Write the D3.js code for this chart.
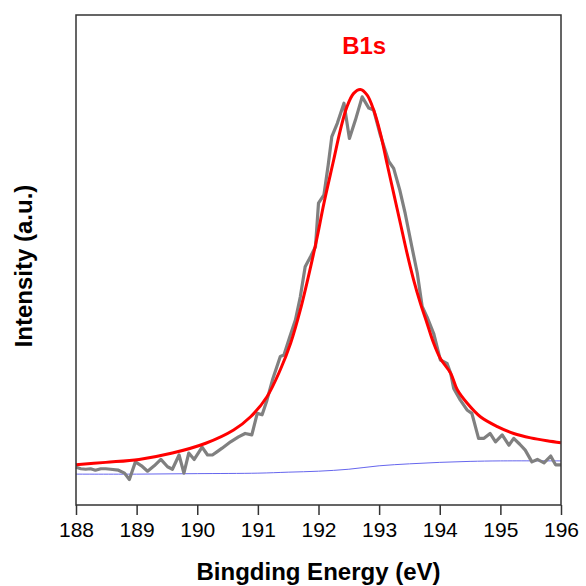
<!DOCTYPE html>
<html>
<head>
<meta charset="utf-8">
<script src="https://cdn.jsdelivr.net/npm/d3@7"></script>
<style>
  body { margin: 0; background: #fff; }
  text { font-family: Arial, "Liberation Sans", sans-serif; }
</style>
</head>
<body>
<div id="d3-container"></div>
<script>
/* CONSTANTS AND GLOBALS */
const width = 586,
  height = 586,
  margin = { top: 15, bottom: 81, left: 76, right: 25 };

/* DATA */
// measured spectrum
const energy = [188.00, 188.08, 188.16, 188.24, 188.32, 188.41, 188.49, 188.57, 188.70, 188.80,
  188.88, 188.98, 189.08, 189.18, 189.29, 189.40, 189.51, 189.59, 189.70, 189.78,
  189.86, 189.95, 190.08, 190.17, 190.25, 190.33, 190.41, 190.55, 190.68, 190.79,
  190.90, 190.99, 191.07, 191.15, 191.24, 191.37, 191.43, 191.52, 191.62, 191.70,
  191.78, 191.87, 191.95, 192.00, 192.09, 192.16, 192.22, 192.31, 192.42, 192.51,
  192.61, 192.72, 192.83, 192.91, 193.02, 193.16, 193.24, 193.34, 193.43, 193.54,
  193.63, 193.71, 193.79, 193.90, 194.01, 194.12, 194.18, 194.23, 194.34, 194.45,
  194.53, 194.64, 194.73, 194.83, 194.92, 195.03, 195.14, 195.22, 195.32, 195.41,
  195.52, 195.61, 195.72, 195.83, 195.91, 196.00];
const counts = [7.7, 7.4, 7.3, 7.4, 7.1, 7.4, 7.4, 7.3, 7.1, 6.5,
  5.2, 8.8, 8.0, 6.9, 8.0, 9.3, 7.8, 7.3, 10.2, 6.5,
  10.6, 9.3, 11.8, 10.2, 10.2, 10.9, 11.6, 12.9, 13.9, 14.6,
  14.3, 18.7, 18.4, 21.4, 25.5, 30.3, 30.6, 34.1, 37.8, 42.5,
  48.6, 50.7, 52.7, 61.6, 63.3, 69.4, 75.2, 77.9, 82.0, 74.8,
  78.6, 83.3, 81.0, 80.6, 75.5, 70.1, 68.7, 64.3, 59.5, 52.7,
  47.3, 40.5, 38.4, 35.0, 29.6, 28.9, 26.9, 23.8, 21.4, 19.4,
  18.7, 13.6, 13.6, 14.6, 12.9, 14.3, 12.2, 13.6, 12.4, 11.2,
  8.8, 9.3, 8.6, 10.0, 8.2, 8.2];

// fitted envelope
const fitEnergy = [188.00, 188.49, 189.04, 189.59, 190.14, 190.60, 190.88, 191.15, 191.37, 191.54,
  191.70, 191.87, 191.98, 192.09, 192.25, 192.36, 192.47, 192.58, 192.69, 192.80,
  192.91, 193.02, 193.13, 193.24, 193.35, 193.46, 193.57, 193.68, 193.79, 193.90,
  194.01, 194.18, 194.29, 194.45, 194.67, 194.95, 195.22, 195.50, 195.77, 196.00];
const fitCounts = [8.2, 8.7, 9.3, 10.6, 12.6, 15.3, 18.0, 22.1, 27.6, 33.0,
  39.8, 48.6, 54.8, 61.6, 70.4, 76.5, 81.3, 84.0, 84.8, 83.7,
  80.6, 75.9, 69.7, 63.6, 57.5, 51.4, 45.9, 41.2, 37.1, 33.0,
  29.9, 26.9, 23.5, 20.8, 18.0, 16.0, 14.6, 13.7, 13.1, 12.7];

// background
const bgEnergy = [188.0, 189.0, 190.0, 191.0, 191.5, 192.0, 192.5, 193.0, 193.5, 194.0, 194.5, 195.0, 196.0];
const bgCounts = [6.3, 6.3, 6.4, 6.5, 6.7, 6.9, 7.3, 8.0, 8.4, 8.7, 8.9, 9.0, 9.0];

const xTicks = [188, 189, 190, 191, 192, 193, 194, 195, 196];
const peakLabel = "B1s";
const peakAt = [192.72, 92];

/* SCALES */
const xScale = d3.scaleLinear()
  .domain([188, 196])
  .range([margin.left, width - margin.right]);

const yScale = d3.scaleLinear()
  .domain([0, 100])
  .range([height - margin.bottom, margin.top]);

const svg = d3.select("#d3-container")
  .append("svg")
  .attr("width", width)
  .attr("height", height);

// zip arrays into point lists
const zip = (xs, ys) => xs.map((x, i) => [x, ys[i]]);

const line = d3.line()
  .x(d => xScale(d[0]))
  .y(d => yScale(d[1]));

const smooth = d3.line()
  .x(d => xScale(d[0]))
  .y(d => yScale(d[1]))
  .curve(d3.curveCatmullRom);

/* LINES */
svg.append("path")
  .datum(zip(bgEnergy, bgCounts))
  .attr("fill", "none")
  .attr("stroke", "#6666ee")
  .attr("stroke-width", 1)
  .attr("d", smooth);

svg.append("path")
  .datum(zip(energy, counts))
  .attr("fill", "none")
  .attr("stroke", "#808080")
  .attr("stroke-width", 3.2)
  .attr("stroke-linejoin", "round")
  .attr("d", line);

svg.append("path")
  .datum(zip(fitEnergy, fitCounts))
  .attr("fill", "none")
  .attr("stroke", "#ff0000")
  .attr("stroke-width", 3)
  .attr("d", smooth);

/* FRAME + AXIS */
svg.append("rect")
  .attr("x", margin.left)
  .attr("y", margin.top)
  .attr("width", width - margin.left - margin.right)
  .attr("height", height - margin.top - margin.bottom)
  .attr("fill", "none")
  .attr("stroke", "#333")
  .attr("stroke-width", 1.5);

const xAxis = d3.axisBottom(xScale)
  .tickValues(xTicks)
  .tickFormat(d3.format("d"))
  .tickSize(10)
  .tickSizeOuter(0);

const gx = svg.append("g")
  .attr("transform", `translate(0, ${height - margin.bottom})`)
  .call(xAxis);

gx.select(".domain").remove();
gx.selectAll(".tick line").attr("stroke", "#333").attr("stroke-width", 1.5);
gx.selectAll(".tick text")
  .attr("y", 17)
  .attr("fill", "#000")
  .style("font-size", "21px")
  .style("font-family", "Arial, 'Liberation Sans', sans-serif");

/* TITLES */
svg.append("text")
  .attr("x", (margin.left + width - margin.right) / 2)
  .attr("y", 580)
  .attr("text-anchor", "middle")
  .style("font-size", "24px")
  .style("font-weight", "bold")
  .text("Bingding Energy (eV)");

svg.append("text")
  .attr("transform", `translate(32, ${266}) rotate(-90)`)
  .attr("text-anchor", "middle")
  .style("font-size", "24px")
  .style("font-weight", "bold")
  .text("Intensity (a.u.)");

svg.append("text")
  .attr("x", xScale(peakAt[0]) + 2)
  .attr("y", yScale(peakAt[1]))
  .attr("text-anchor", "middle")
  .attr("fill", "#ff0000")
  .style("font-size", "24px")
  .style("font-weight", "bold")
  .text(peakLabel);
</script>
</body>
</html>
